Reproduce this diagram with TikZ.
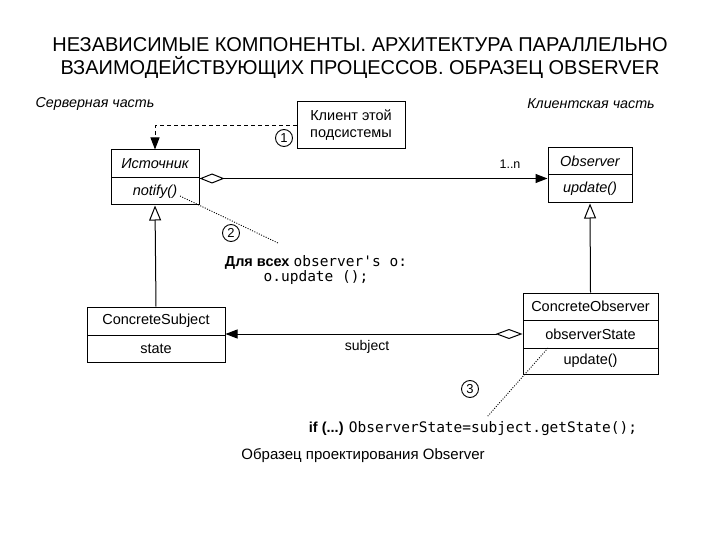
\documentclass[tikz,border=0pt]{standalone}
\usepackage{fontspec}
\setmainfont{Liberation Sans}
\setmonofont{DejaVu Sans Mono}
\usetikzlibrary{arrows.meta}
\tikzset{
  umlbox/.style={draw, line width=1pt, inner sep=0pt, font=\fontsize{14.5}{16}\selectfont},
  itbox/.style={umlbox, font=\fontsize{14.5}{16}\selectfont\itshape},
  numcircle/.style={draw, circle, line width=0.9pt, minimum size=17pt, inner sep=0pt, font=\fontsize{13}{13}\selectfont},
  conn/.style={line width=1pt},
  dotline/.style={line width=0.9pt, dash pattern=on 1pt off 1.5pt},
  dashline/.style={line width=1pt, dash pattern=on 4pt off 3pt},
}
\begin{document}
\begin{tikzpicture}[x=1pt,y=-1pt]
\useasboundingbox (0,0) rectangle (720,540);
\fill[white] (0,0) rectangle (720,540);

% title
\node[font=\fontsize{20}{23}\selectfont, align=center] (title) at (360,58.5)
  {НЕЗАВИСИМЫЕ КОМПОНЕНТЫ. АРХИТЕКТУРА ПАРАЛЛЕЛЬНО\\ВЗАИМОДЕЙСТВУЮЩИХ ПРОЦЕССОВ. ОБРАЗЕЦ OBSERVER};

% part labels
\node[font=\fontsize{14.3}{16}\selectfont\itshape] (srvlbl) at (95,104) {Серверная часть};
\node[font=\fontsize{14.3}{16}\selectfont\itshape] (clilbl) at (591,104) {Клиентская часть};

% client box
\node[umlbox, minimum width=108pt, minimum height=47pt, align=center, font=\fontsize{14.5}{17}\selectfont] (client) at (351,125.5) {Клиент этой\\подсистемы};

% Источник
\node[itbox, minimum width=88pt, minimum height=28pt] (src1) at (155,164) {Источник};
\node[itbox, minimum width=88pt, minimum height=27pt] (src2) at (155,191.5) {notify()};

% Observer
\node[itbox, minimum width=84pt, minimum height=27pt] (obs1) at (590,161.5) {Observer};
\node[itbox, minimum width=84pt, minimum height=28pt] (obs2) at (590,189) {update()};

% ConcreteSubject
\node[umlbox, minimum width=138pt, minimum height=28pt] (cs1) at (156,321) {ConcreteSubject};
\node[umlbox, minimum width=138pt, minimum height=27pt] (cs2) at (156,348.5) {state};

% ConcreteObserver
\node[umlbox, minimum width=135pt, minimum height=27pt] (co1) at (590.5,306.5) {ConcreteObserver};
\node[umlbox, minimum width=135pt, minimum height=28pt] (co2) at (590.5,334) {observerState};
\node[umlbox, minimum width=135pt, minimum height=26pt] (co3) at (590.5,361) {update()};

% connectors
\draw[dashline, -{Triangle[length=12pt,width=9pt]}] (client.west) -| (src1.north);
\draw[conn, {Diamond[open,length=25pt,width=10pt]}-{Triangle[length=12pt,width=9pt]}]
  (src1.south east) -- (src1.south east -| obs1.west);
\draw[conn, -{Triangle[open,length=15pt,width=12pt]}] (cs1.north) -- (src2.south);
\draw[conn, -{Triangle[open,length=15pt,width=12pt]}] (co1.north) -- (obs2.south);
\draw[conn, {Diamond[open,length=27pt,width=10pt]}-{Triangle[length=12pt,width=9pt]}]
  (co2.west) -- (co2.west -| cs1.east);

% labels on connectors
\node[font=\fontsize{12.5}{12}\selectfont] (mult) at (510,164) {1..n};
\node[font=\fontsize{14}{14}\selectfont] (subjlbl) at (367,347) {subject};

% numbered circles
\node[numcircle] (n1) at (284,138) {1};
\node[numcircle] (n2) at (231,233) {2};
\node[numcircle] (n3) at (470,389) {3};

% notes
\node[align=center, inner sep=0pt, font=\fontsize{14.5}{15}\selectfont] (note2) at (316,270)
  {\textbf{Для всех} {\ttfamily observer's o:}\\{\ttfamily o.update ();}};
\node[inner sep=0pt, font=\fontsize{14.5}{15}\selectfont] (note3) at (473,429)
  {\textbf{if (...)} {\ttfamily ObserverState=subject.getState();}};
\node[font=\fontsize{15}{15}\selectfont] (caption) at (363,456) {Образец проектирования Observer};

% dotted note links
\coordinate (d2a) at (180,196);
\coordinate (d2b) at (278,243);
\coordinate (d3a) at (548,348);
\coordinate (d3b) at (487,417);
\draw[dotline] (d2a) -- (d2b);
\draw[dotline] (d3a) -- (d3b);
\end{tikzpicture}
\end{document}
